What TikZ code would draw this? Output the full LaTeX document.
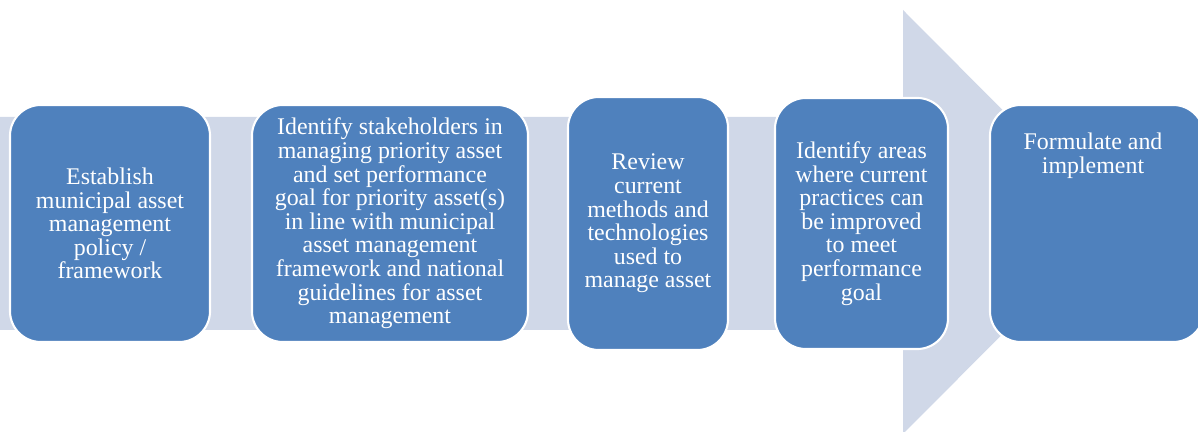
\documentclass[tikz,border=0pt]{standalone}
\usepackage{fontspec}
\setmainfont{Liberation Serif}
\definecolor{stageBlue}{HTML}{4F81BD}
\definecolor{flowGrey}{HTML}{D0D8E8}
\tikzstyle{flow}=[fill=flowGrey]
\tikzstyle{stage}=[rounded corners=22pt, fill=stageBlue, draw=white, line width=1.5pt, inner sep=0pt]
\tikzstyle{stagetext}=[text=white, align=center, font=\fontsize{17}{16.8}\selectfont]

\begin{document}
\begin{tikzpicture}[x=0.025cm, y=-0.025cm]
				\useasboundingbox (0,0) rectangle (1198,432);
				% Background flow arrow
				\fill[flow] (0,117) -- (903,117) -- (903,10) -- (1114,222) -- (903,434) -- (903,330) -- (0,330) -- cycle;

				% Stages of the process
				\node[stage, stagetext, minimum width=5cm, minimum height=5.925cm] (establish) at (110,223.5)
					{Establish\\municipal asset\\management\\policy /\\framework};
				\node[stage, stagetext, minimum width=6.9cm, minimum height=5.925cm] (identify) at (390,223.5)
					{Identify stakeholders in\\managing priority asset\\and set performance\\goal for priority asset(s)\\in line with municipal\\asset management\\framework and national\\guidelines  for asset\\management};
				\node[stage, stagetext, minimum width=4cm, minimum height=6.325cm] (review) at (648,223.5)
					{Review\\current\\methods and\\technologies\\used to\\manage asset};
				\node[stage, stagetext, minimum width=4.325cm, minimum height=6.275cm] (improve) at (861.5,223.5)
					{Identify areas\\where current\\practices can\\be improved\\to meet\\performance\\goal};
				\node[stage, minimum width=5.35cm, minimum height=5.925cm] (formulate) at (1097,223.5) {};
				\node[stagetext, anchor=north] (formulatetext) at (1093,128) {Formulate and\\implement};
			\end{tikzpicture}
\end{document}
